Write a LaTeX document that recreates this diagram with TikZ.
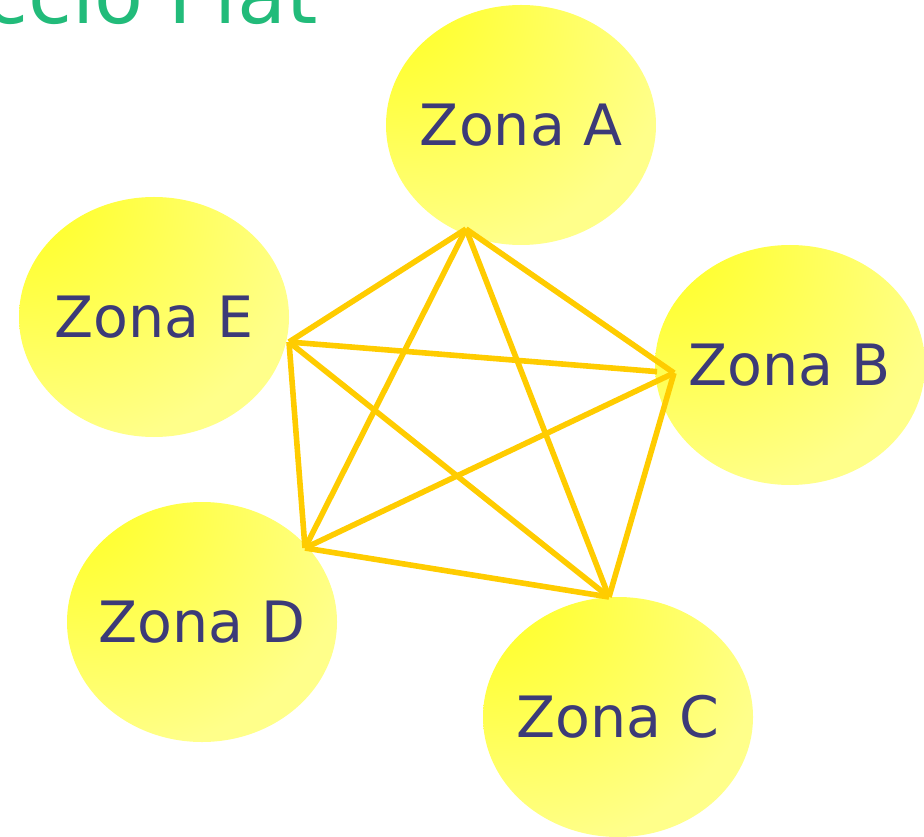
\documentclass[tikz,border=0pt]{standalone}
\usepackage{fontspec}
\setmainfont{DejaVu Sans}
\usetikzlibrary{shapes.geometric,calc}

\definecolor{zonahi}{RGB}{255,255,25}
\definecolor{zonalo}{RGB}{255,255,138}
\definecolor{zonatext}{RGB}{60,58,120}
\definecolor{titlegreen}{RGB}{34,187,122}
\definecolor{enlacecol}{RGB}{255,204,0}
\pgfdeclareradialshading{zonaglow}{\pgfpoint{-32bp}{32bp}}{color(0bp)=(zonahi); color(4bp)=(zonahi); color(45bp)=(zonalo); color(100bp)=(zonalo)}

\begin{document}
\begin{tikzpicture}[x=0.5pt, y=0.5pt,
	zona/.style={ellipse, draw=none, shading=zonaglow, minimum width=135pt, minimum height=120pt, inner sep=0pt, text=zonatext, font=\fontsize{28.5}{34}\selectfont},
	enlace/.style={color=enlacecol, line width=2.8pt}]
	\useasboundingbox (0,0) rectangle (924,836);
	\clip (0,0) rectangle (924,836);

	\node[anchor=base east, inner sep=0pt, text=titlegreen, font=\fontsize{40}{48}\selectfont] (titulo) at (318,812) {ccio Flat};

	\node[zona] (zA) at (521,711) {\makebox[0pt]{Zona A}};
	\node[zona] (zB) at (790,471) {\makebox[0pt]{Zona B}};
	\node[zona] (zC) at (618,119) {\makebox[0pt]{Zona C}};
	\node[zona] (zD) at (202,214) {\makebox[0pt]{Zona D}};
	\node[zona] (zE) at (154,519) {\makebox[0pt]{Zona E}};

	\coordinate (vA) at (466,607);
	\coordinate (vB) at (674,463);
	\coordinate (vC) at (609,239);
	\coordinate (vD) at (305,288);
	\coordinate (vE) at (289,494);

	\path [enlace]
		(vA) edge (vE)
		(vA) edge (vB)
		(vA) edge (vD)
		(vA) edge (vC)
		(vE) edge ($(vE)!0.956!(vB)$)
		(vE) edge (vD)
		(vE) edge (vC)
		(vB) edge (vD)
		(vB) edge (vC)
		(vD) edge (vC)
	;
\end{tikzpicture}
\end{document}
